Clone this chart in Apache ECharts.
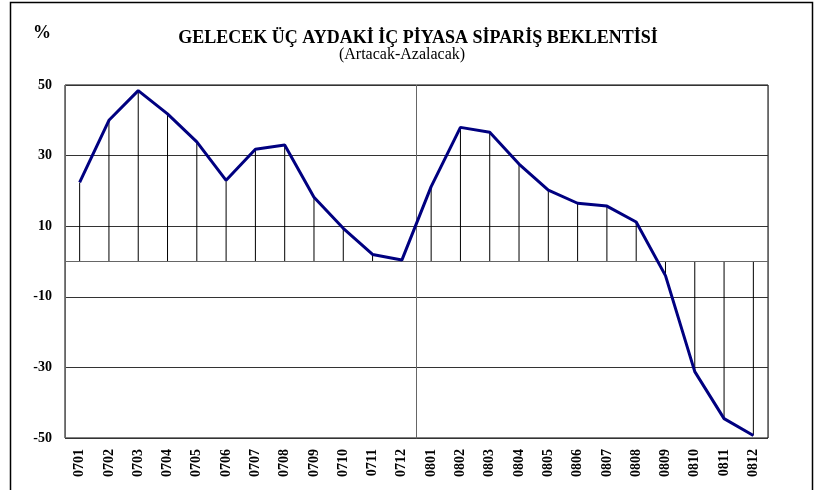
<!DOCTYPE html>
<html>
<head>
  <meta charset="utf-8">
  <title>Gelecek üç aydaki iç piyasa sipariş beklentisi</title>
  <script src="https://cdn.jsdelivr.net/npm/echarts@6/dist/echarts.min.js"></script>
  <style>
    html, body { margin: 0; padding: 0; background: #fff; }
    #chart { width: 830px; height: 490px; }
  </style>
</head>
<body>
<div id="chart"></div>
<script>
  // aylar (YYAA)
  var months = ['0701', '0702', '0703', '0704', '0705', '0706', '0707', '0708', '0709', '0710', '0711', '0712',
                '0801', '0802', '0803', '0804', '0805', '0806', '0807', '0808', '0809', '0810', '0811', '0812'];
  // artacak - azalacak (%)
  var balance = [22.4, 40, 48.4, 41.8, 33.9, 23, 31.8, 33, 18.2, 9.4, 2, 0.4,
                 21.2, 38, 36.6, 27.6, 20.2, 16.5, 15.7, 11.2, -4, -31.2, -44.5, -49.3];
  // yıllar (ayırıcı çizgi için)
  var years = ['2007', '2008'];
  var yTicks = { min: -50, max: 50, step: 20 };

  var serif = '"Liberation Serif", "DejaVu Serif", serif';
  var myChart = echarts.init(document.getElementById('chart'));

  var option = {
    animation: false,
    title: [
      {
        text: 'GELECEK ÜÇ AYDAKİ İÇ PİYASA SİPARİŞ BEKLENTİSİ',
        left: 413,
        textAlign: 'center',
        top: 24,
        textStyle: { fontFamily: serif, fontSize: 18, fontWeight: 'bold', color: '#000' }
      },
      {
        text: '(Artacak-Azalacak)',
        left: 397,
        textAlign: 'center',
        top: 42,
        textStyle: { fontFamily: serif, fontSize: 16, fontWeight: 'normal', color: '#000' }
      }
    ],
    graphic: [
      { type: 'rect', shape: { x: 10.5, y: 2.5, width: 802, height: 500 },
        style: { fill: 'none', stroke: '#000', lineWidth: 1.5 } },
      { type: 'text', left: 33, top: 24,
        style: { text: '%', font: 'bold 18px ' + serif, fill: '#000' } }
    ],
    grid: {
      left: 65, right: 62, top: 85, bottom: 52,
      show: true, borderColor: '#000', borderWidth: 1
    },
    xAxis: [
      {
        type: 'category',
        data: months,
        boundaryGap: true,
        axisLine: { show: false },
        axisTick: { show: false },
        axisLabel: {
          rotate: 90, margin: 11, interval: 0,
          fontFamily: serif, fontSize: 14, fontWeight: 'bold', color: '#000'
        },
        splitLine: { show: false }
      },
      {
        // yıl ayırıcı dikey çizgi
        type: 'category',
        data: years,
        position: 'bottom',
        boundaryGap: true,
        axisLine: { show: false },
        axisTick: { show: false },
        axisLabel: { show: false },
        splitLine: { show: true, lineStyle: { color: '#666', width: 1 } }
      }
    ],
    yAxis: {
      type: 'value',
      min: yTicks.min, max: yTicks.max, interval: yTicks.step,
      axisLine: { show: false },
      axisTick: { show: false },
      axisLabel: {
        margin: 13,
        fontFamily: serif, fontSize: 14, fontWeight: 'bold', color: '#000'
      },
      splitLine: { show: true, lineStyle: { color: '#333', width: 1 } }
    },
    series: [
      {
        // sıfır çizgisine inen dikey çizgiler
        type: 'bar',
        data: balance,
        barWidth: 1,
        itemStyle: { color: '#000' },
        silent: true,
        markLine: {
          silent: true,
          symbol: 'none',
          label: { show: false },
          lineStyle: { color: '#666', type: 'solid', width: 1 },
          data: [{ yAxis: 0 }]
        }
      },
      {
        type: 'line',
        data: balance,
        showSymbol: false,
        lineStyle: { color: '#000080', width: 3 },
        z: 5
      }
    ]
  };

  option && myChart.setOption(option);
</script>
</body>
</html>
